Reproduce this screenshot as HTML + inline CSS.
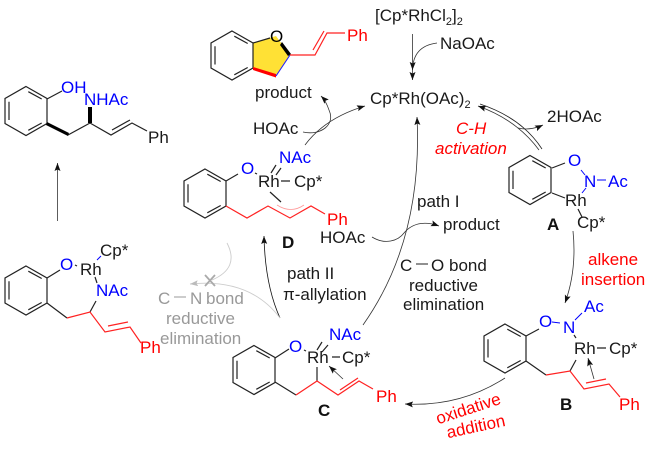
<!DOCTYPE html>
<html><head><meta charset="utf-8"><style>
html,body{margin:0;padding:0;background:#fff}
svg{display:block}
text{font-family:"Liberation Sans",sans-serif;font-size:17px;fill:#1a1a1a}
.b{fill:#00f}.r{fill:#f00}.g{fill:#999}.k{font-weight:bold;fill:#111}
.l{stroke:#222;stroke-width:1.2;fill:none}
.rl{stroke:#f22;stroke-width:1.2;fill:none}
.a{stroke:#333;stroke-width:.8;fill:none;marker-end:url(#m)}
</style></head><body>
<svg width="650" height="451" viewBox="0 0 650 451" xmlns="http://www.w3.org/2000/svg">
<defs>
<marker id="m" markerUnits="userSpaceOnUse" markerWidth="10" markerHeight="8" refX="8" refY="3" orient="auto"><path d="M0,0L8,3L0,6L1.5,3Z" fill="#111"/></marker>
<marker id="mg" markerUnits="userSpaceOnUse" markerWidth="10" markerHeight="8" refX="8" refY="3" orient="auto"><path d="M0,0L8,3L0,6L1.5,3Z" fill="#bbb"/></marker>
<g id="bz" class="l"><path d="M0,-24.5L21,-12.5V12.5L0,24.5L-21,12.5V-12.5Z"/><path d="M2.3,-19.3L15.7,-12M15.7,12L2.3,19.3M-17,-9.3V9"/></g>
</defs>

<!-- top left product -->
<use href="#bz" x="26" y="111"/>
<path class="l" d="M47,99L62,91M68,135L90,123L111,135L132,123L147,131M112,130L130,120"/>
<path d="M47,122L69,133L68,136L46,125Z M88,123L92,123L92,107L88,107Z" fill="#000"/>
<text class="b" x="61" y="93">OH</text><text class="b" x="84" y="105">NHAc</text><text x="148" y="143">Ph</text>
<path class="a" d="M57.5,221V163"/>

<!-- benzofuran -->
<path d="M253,43L276,36L290,55L276,76L253,68Z" fill="#ffe135"/>
<use href="#bz" x="232" y="55.5"/>
<path class="l" d="M253,43L270,38"/>
<path d="M282,42L291,54L288,56L280,45Z" fill="#000"/>
<path d="M253,67L276,74L276,77.500L253,70Z" fill="#f00"/>
<path d="M276,76L290,55" stroke="#22f" stroke-width="1.1"/>
<path class="rl" d="M290,55H315L327,33H345M313,50L324,31"/>
<text x="270" y="42" style="fill:#000">O</text>
<text class="r" x="347" y="41">Ph</text>
<text x="255" y="98">product</text>
<text x="253" y="134">HOAc</text>
<path class="a" d="M303,132C320,136 336,125 329,110C327,104 325,100 321,96"/>
<path class="a" d="M305,145Q325,118 365,106"/>

<!-- top centre -->
<text x="375" y="21">[Cp*RhCl<tspan font-size="11" dy="4">2</tspan><tspan dy="-4">]</tspan><tspan font-size="11" dy="4">2</tspan></text>
<text x="440" y="49">NaOAc</text>
<path class="a" d="M412.500,34V80"/>
<path class="a" d="M437,43Q413,46 412.500,70"/>
<text x="370" y="104">Cp*Rh(OAc)<tspan font-size="11" dy="4">2</tspan></text>
<text x="547" y="122">2HOAc</text>
<path class="a" d="M518,128Q530,131 543,125"/>
<path class="a" d="M539,150Q517,120 478,106"/>
<path class="l" style="stroke-width:.8" d="M480,104Q522,118 542,149"/>
<text class="r" x="456" y="134" style="font-style:italic">C-H</text>
<text class="r" x="435" y="154" style="font-style:italic">activation</text>

<!-- A -->
<use href="#bz" x="530" y="180"/>
<path class="l" d="M552,168L565,163M552,193L565,198M578,209L582,217"/>
<path d="M581,170L585,175M586,188L582,193M597,180H606" stroke="#00f" stroke-width="1"/>
<text class="b" x="568" y="166">O</text><text class="b" x="584" y="187">N</text><text class="b" x="608" y="187">Ac</text>
<text x="565" y="206">Rh</text><text x="577" y="228">Cp*</text><text class="k" x="547" y="230">A</text>
<text class="r" x="588" y="265">alkene</text><text class="r" x="581" y="285">insertion</text>
<path class="a" d="M573,231Q577,270 565,303"/>

<!-- B -->
<use href="#bz" x="505" y="348.500"/>
<path class="l" d="M526,336L539,329M526,361L546,375M576,360L570,371M597,348H606M574,335L576,338"/>
<path class="rl" d="M546,375L570,371L584,389L609,384L620,397M586,383L606,379"/>
<path d="M552,322L560,323M575,320L582,313" stroke="#00f" stroke-width="1"/>
<path class="a" d="M594,379L588,358"/>
<text class="b" x="539" y="327">O</text><text class="b" x="563" y="333">N</text><text class="b" x="584" y="312">Ac</text>
<text x="574" y="354">Rh</text><text x="609" y="354">Cp*</text>
<text class="r" x="619" y="410">Ph</text><text class="k" x="560" y="410">B</text>
<path class="a" d="M505,378Q460,407 405,404"/>
<text class="r" text-anchor="middle" transform="translate(470,414) rotate(-18)">oxidative</text>
<text class="r" text-anchor="middle" transform="translate(477,432) rotate(-12)">addition</text>

<!-- C -->
<use href="#bz" x="254" y="370"/>
<path class="l" d="M275,358L289,349M275,382L296,395M317,381V367M322,342L317,350M328,345L322,352M332,357H340M304,350L306,351"/>
<path class="rl" d="M296,395L317,381L338,395L359,381L373,389M340,390L358,378"/>
<path class="a" d="M343,379L329,366"/>
<text class="b" x="289" y="352">O</text><text x="307" y="363">Rh</text><text x="342" y="363">Cp*</text>
<text class="b" x="329" y="340">NAc</text><text class="r" x="376" y="402">Ph</text><text class="k" x="318" y="416">C</text>

<!-- D -->
<use href="#bz" x="205" y="193.500"/>
<path class="l" d="M226,181L238,174M270,192L281,202M281,181H290M276,165L271,173M281,168L276,175M255,173L257,174"/>
<path class="rl" d="M226,206L247,218L268,206L290,218L311,206L325,214"/>
<path d="M277,205Q291,214 304,205" stroke="#f99" stroke-width=".8" fill="none"/>
<text class="b" x="241" y="174">O</text><text x="258" y="187">Rh</text><text x="294" y="187">Cp*</text>
<text class="b" x="279" y="163">NAc</text><text class="r" x="327" y="225">Ph</text>
<text class="k" x="282" y="248">D</text><text x="320" y="243">HOAc</text>
<path class="a" d="M372,237C385,245 398,241 404,233C414,221 428,222 439,226"/>
<text x="287" y="279">path II</text>
<text x="283" y="300">π-allylation</text>
<path class="a" d="M280,318Q265,285 264,236" style="stroke:#111"/>

<!-- path I -->
<path class="a" d="M363,325Q423,240 417,117"/>
<text x="417" y="207">path I</text>
<text x="443" y="230">product</text>
<text x="400" y="271">C</text><path d="M416,264H428" stroke="#222" stroke-width="1"/><text x="431" y="271">O</text><text x="449" y="271">bond</text>
<text x="409" y="291">reductive</text><text x="403" y="310">elimination</text>

<!-- left -->
<use href="#bz" x="26" y="290.500"/>
<path class="l" d="M47,278L60,270M47,303L67,318M90,312L96,301M95,277L97,283M75,265L77,266"/>
<path d="M97,260L101,256" stroke="#00f" stroke-width="1"/>
<path class="rl" d="M67,318L90,312L105,332L130,327L141,343M108,326L128,322"/>
<text class="b" x="60" y="270">O</text><text x="80" y="275">Rh</text><text x="100" y="256">Cp*</text>
<text class="b" x="96" y="296">NAc</text><text class="r" x="140" y="353">Ph</text>

<!-- gray -->
<g stroke="#ccc" stroke-width=".9" fill="none">
<path d="M227,243Q240,268 212,280"/>
<path d="M280,318Q250,278 190,284" marker-end="url(#mg)"/>
</g>
<path d="M205,275L215,286M215,275L205,286" stroke="#aaa" stroke-width="1.800"/>
<text class="g" x="158" y="304">C</text><path d="M174,297H186" stroke="#999" stroke-width="1"/><text class="g" x="190" y="304">N</text><text class="g" x="206" y="304">bond</text>
<text class="g" x="166" y="324">reductive</text><text class="g" x="160" y="344">elimination</text>
</svg>
</body></html>
